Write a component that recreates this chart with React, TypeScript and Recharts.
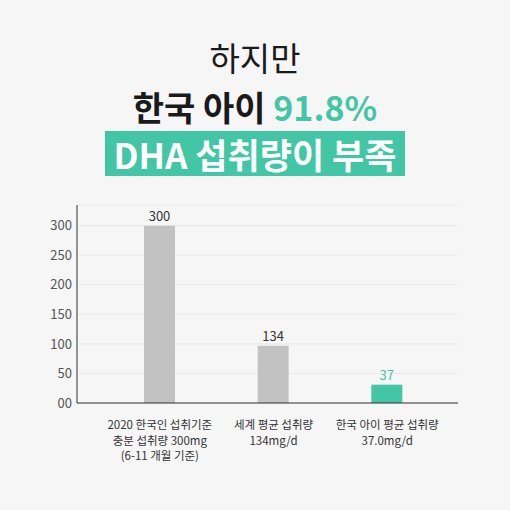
import React from 'react';
import { BarChart, Bar, XAxis, YAxis, CartesianGrid, Cell, LabelList } from 'recharts';

const categories = ['2020 한국인 섭취기준\n충분 섭취량 300mg\n(6-11 개월 기준)', '세계 평균 섭취량\n134mg/d', '한국 아이 평균 섭취량\n37.0mg/d'];
const barValues = [300, 97, 31];
const barLabels = ['300', '134', '37'];
const barColors = ['#c2c2c2', '#c2c2c2', '#43c6a5'];
const labelColors = ['#333333', '#333333', '#43c6a5'];
const yTicks = [0, 50, 100, 150, 200, 250, 300];

const data = categories.map((name, i) => ({ name, value: barValues[i], label: barLabels[i] }));

const FONT = '"Noto Sans CJK KR", "Noto Sans", sans-serif';
const GREEN = '#43c6a5';

const MultiLineTick = (props: any) => {
  const { x, y, payload } = props;
  const lines = String(payload.value).split('\n');
  return (
    <g>
      {lines.map((l, i) => (
        <text key={i} x={x} y={y + 18 + i * 15.5} textAnchor="middle" fill="#333" fontSize={11.5} fontFamily={FONT}>
          {l}
        </text>
      ))}
    </g>
  );
};

const BarLabel = (props: any) => {
  const { x, y, width, index } = props;
  return (
    <text x={x + width / 2} y={y - 5} textAnchor="middle" fill={labelColors[index]} fontSize={13} fontFamily={FONT}>
      {barLabels[index]}
    </text>
  );
};

const App: React.FC = () => {
  return (
    <div style={{ position: 'absolute', left: 0, top: 0, width: 510, height: 510, background: '#f6f6f6', fontFamily: FONT, overflow: 'hidden' }}>
      <div style={{ position: 'absolute', top: 36, width: 510, textAlign: 'center', fontSize: 33, fontWeight: 400, color: '#1a1a1a', lineHeight: '42px' }}>
        하지만
      </div>
      <div style={{ position: 'absolute', top: 85, width: 510, textAlign: 'center', fontSize: 34, fontWeight: 700, color: '#1a1a1a', lineHeight: '44px' }}>
        한국 아이 <span style={{ color: GREEN }}>91.8%</span>
      </div>
      <div style={{ position: 'absolute', top: 131, left: 105, width: 300, height: 45, background: GREEN, color: '#fff', textAlign: 'center', fontSize: 35, fontWeight: 700, lineHeight: '45px', whiteSpace: 'nowrap' }}>
        DHA 섭취량이 부족
      </div>
      <div style={{ position: 'absolute', top: 0, left: 0 }}>
        <BarChart width={510} height={510} data={data} margin={{ top: 205, right: 52, left: 37, bottom: 47 }}>
          <CartesianGrid vertical={false} stroke="#e9e9e9" />
          <XAxis
            dataKey="name"
            height={60}
            interval={0}
            tick={<MultiLineTick />}
            tickLine={false}
            axisLine={{ stroke: '#333' }}
            padding={{ left: 26, right: 14 }}
          />
          <YAxis
            width={40}
            domain={[0, 335]}
            ticks={yTicks}
            tickLine={false}
            axisLine={{ stroke: '#333' }}
            tick={{ fill: '#555', fontSize: 13, fontFamily: FONT, dx: 3 }}
            tickFormatter={(v: number) => (v === 0 ? '00' : String(v))}
          />
          <Bar dataKey="value" barSize={31} isAnimationActive={false}>
            {data.map((_, i) => (
              <Cell key={i} fill={barColors[i]} />
            ))}
            <LabelList dataKey="label" content={<BarLabel />} />
          </Bar>
        </BarChart>
      </div>
    </div>
  );
};

export default App;
